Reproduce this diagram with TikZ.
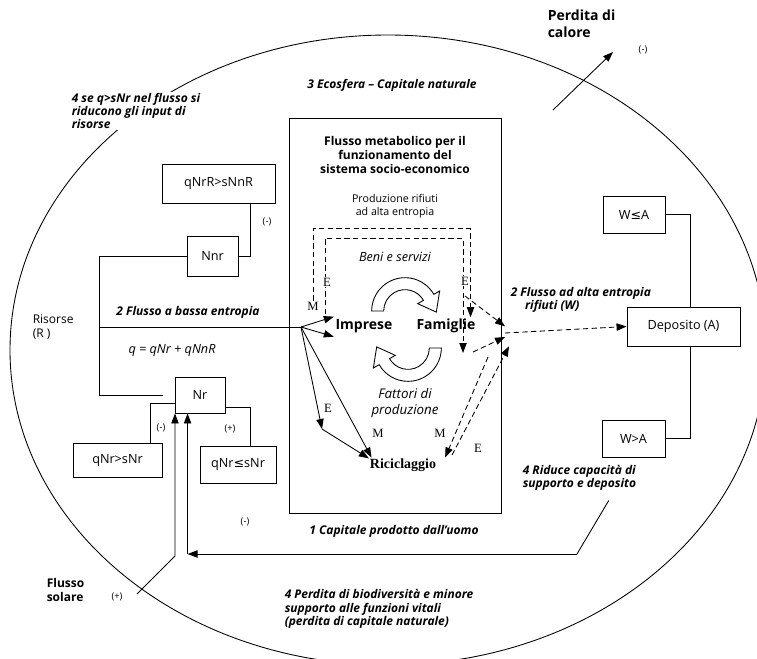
\documentclass[tikz,border=0pt]{standalone}
\usepackage{fontspec}
\setmainfont{Liberation Serif}
\setsansfont{Open Sans}
\newfontfamily\symfont{DejaVu Sans}
\renewcommand{\familydefault}{\sfdefault}
\usetikzlibrary{arrows.meta,calc}
\begin{document}
\begin{tikzpicture}[x=0.75pt,y=-0.75pt,line width=0.65pt]
  \tikzstyle{box}=[draw,inner sep=0pt,font=\fontsize{9.5}{11}\selectfont]
  \tikzstyle{bi}=[inner sep=1pt,align=left,font=\fontsize{9}{10}\selectfont\bfseries\itshape]
  \tikzstyle{bb}=[inner sep=1pt,align=left,font=\fontsize{9}{10.5}\selectfont\bfseries]
  \tikzstyle{txt}=[inner sep=1pt,align=left,font=\fontsize{9}{11}\selectfont]
  \tikzstyle{pm}=[inner sep=0pt,font=\fontsize{7}{8}\selectfont]
  \tikzstyle{flow}=[inner sep=0.5pt,font=\fontsize{9.5}{10}\selectfont\rmfamily]
  \tikzstyle{arr}=[-{Triangle[length=7.5pt,width=5.5pt]}]
  \tikzstyle{dashline}=[dash pattern=on 4pt off 2.5pt]
  \tikzstyle{fat}=[fill=white]
  \useasboundingbox (0,0) rectangle (757,658);
  \draw (388,350) ellipse [x radius=283.5pt, y radius=236.25pt];

  \node[bi,fill=white,anchor=west] (se) at (70,111) {4 se q>sNr nel flusso si\\riducono gli input di\\risorse};
  \node[bb,font=\fontsize{10.5}{12.75}\selectfont\bfseries,anchor=north west] (calore) at (546,8) {Perdita di\\calore};
  \node[pm] (m1) at (643,50) {(-)};
  \node[bi] (eco) at (392,85) {3 Ecosfera -- Capitale naturale};

  \node[draw,minimum width=159pt,minimum height=296.25pt] (cap) at (395,315.5) {};
  \node[bb,align=center] (meta) at (395,155) {Flusso metabolico per il\\funzionamento del\\sistema socio-economico};
  \node[txt,align=center,font=\fontsize{8}{9.75}\selectfont] (rif) at (395,206) {Produzione rifiuti\\ad alta entropia};
  \node[txt,font=\fontsize{9.5}{11}\selectfont\itshape] (beni) at (395,257) {Beni e servizi};
  \node[bb,font=\fontsize{10.5}{12}\selectfont\bfseries] (imp) at (364,326) {Imprese};
  \node[bb,font=\fontsize{10.5}{12}\selectfont\bfseries] (fam) at (446,326) {Famiglie};
  \node[txt,align=center,font=\fontsize{10}{12}\selectfont\itshape] (fatt) at (405,403) {Fattori di\\produzione};
  \node[flow,font=\fontsize{10.5}{11}\selectfont\rmfamily\bfseries] (ric) at (403,465) {Riciclaggio};
  \node[bi] (uomo) at (394,531) {1 Capitale prodotto dall’uomo};

  \node[box,minimum width=84.75pt,minimum height=29.25pt] (qnrr) at (218.5,183.5) {qNrR>sNnR};
  \node[box,minimum width=38.25pt,minimum height=30pt] (nnr) at (212.5,256) {Nnr};
  \node[box,minimum width=37.5pt,minimum height=27pt] (nr) at (200,395) {Nr};
  \node[box,minimum width=66.75pt,minimum height=25.5pt] (qnrg) at (117.5,460) {qNr>sNr};
  \node[box,minimum width=57pt,minimum height=27.75pt] (qnrl) at (238,464.5) {qNr{\symfont ≤}sNr};
  \node[box,minimum width=46.5pt,minimum height=27.75pt] (wle) at (634,214.5) {W{\symfont ≤}A};
  \node[box,minimum width=84.75pt,minimum height=29.25pt] (dep) at (683.5,326.5) {Deposito (A)};
  \node[box,minimum width=47.25pt,minimum height=27.75pt] (wgt) at (633.5,438.5) {W>A};

  \node[txt,anchor=west] (ris) at (31,327) {Risorse\\(R )};
  \node[bi] (bassa) at (188,312) {2 Flusso a bassa entropia};
  \node[txt,font=\fontsize{9.5}{11}\selectfont\itshape] (q) at (172,350) {q = qNr + qNnR};
  \node[bi,anchor=west] (alta) at (509,300) {2 Flusso ad alta entropia\\\hspace*{1.2em}rifiuti (W)};
  \node[bi,anchor=west] (riduce) at (521,478) {4 Riduce capacità di\\supporto e deposito};
  \node[bi,anchor=west] (bio) at (283,609) {4 Perdita di biodiversità e minore\\supporto alle funzioni vitali\\(perdita di capitale naturale)};
  \node[bb,anchor=west] (sole) at (45,590) {Flusso\\solare};

  \node[pm] (m2) at (267,222) {(-)};
  \node[pm] (m3) at (161,428) {(-)};
  \node[pm] (p1) at (230,429) {(+)};
  \node[pm] (m4) at (245,522) {(-)};
  \node[pm] (p2) at (117,597) {(+)};

  \coordinate (c1) at (405,311);
  \coordinate (c2) at (408,348);
  \draw[fat] ($(c1)+(180:25pt)$) arc[start angle=180, end angle=30, radius=25pt]
    -- ($(c1)+(30:30pt)$) -- ($(c1)+(-2:23.5pt)$) -- ($(c1)+(30:11pt)$)
    -- ($(c1)+(30:16pt)$) arc[start angle=30, end angle=180, radius=16pt] -- cycle;
  \draw[fat] ($(c2)+(0:25pt)$) arc[start angle=0, end angle=-150, radius=25pt]
    -- ($(c2)+(-150:30pt)$) -- ($(c2)+(178:23.5pt)$) -- ($(c2)+(-150:11pt)$)
    -- ($(c2)+(-150:16pt)$) arc[start angle=-150, end angle=0, radius=16pt] -- cycle;

  \draw ([xshift=23.6pt]qnrr.south) |- (nnr.east);
  \draw (nnr.west) -- ++(-87,0) |- ([xshift=-9pt]nr.west);
  \draw ([xshift=24.4pt]qnrg.north) |- ([yshift=-6pt]nr.west);
  \draw ([yshift=-9pt]nr.east) -| ([xshift=9pt]qnrl.north);
  \draw (wle.east) -| ([xshift=5pt]dep.north);
  \draw ([xshift=5pt]dep.south) |- (wgt.east);

  \coordinate (r) at (100,327);
  \coordinate (o) at (301,327);
  \coordinate (e1) at (322,429);
  \draw (r) -- (o);
  \draw[arr] (o) -- ([yshift=7pt]imp.west);
  \draw[arr] (o) -- ([yshift=-8pt]imp.west);
  \draw[arr] (o) -- (e1);
  \draw[arr] (e1) -- ([yshift=5pt]ric.west);
  \draw[arr] (o) -- ([xshift=2pt]ric.north west);
  \node[flow] (le) at (328,408) {E};
  \node[flow] (lm) at (378,433) {M};

  \node[flow,fill=white] (mo) at (313,306) {M};
  \coordinate (i0) at (325,314);
  \coordinate (i1) at (463,353);
  \draw[dashline,arr] (mo.north) -- ++(0,-72) -| ([xshift=-5pt]fam.north east);
  \draw[dashline,arr] (i0) -- ++(0,-76) -| (i1);
  \node[flow,fill=white] (ei) at (327,282) {E};
  \node[flow,fill=white] (ef) at (465,281) {E};

  \coordinate (j) at (505,333);
  \coordinate (d1) at (465,296);
  \coordinate (d2) at (473,352);
  \coordinate (d3) at (452,455);
  \coordinate (d4) at (488,357);
  \draw[dashline,arr] (d1) -- ([yshift=5pt]j);
  \draw[dashline,arr] (d2) -- ([yshift=-3pt]j);
  \draw[dashline,arr] (d3) -- ([xshift=3pt,yshift=-10pt]j);
  \draw[dashline,arr] (d4) -- ([xshift=6pt]ric.north east);
  \draw[dashline,arr] (j) -- (dep.west);
  \node[flow] (rm) at (440,433) {M};
  \node[flow] (re) at (478,448) {E};

  \coordinate (h0) at (553,110);
  \coordinate (h1) at (613,52);
  \draw[arr] (h0) -- (h1);

  \coordinate (sol) at (137,594);
  \draw[arr] (sol) -- ++(38,-38) coordinate (s1) -- (s1 |- nr.south);
  \coordinate (back) at (577,554);
  \coordinate (nrc) at ([xshift=9.75pt]nr.south west);
  \draw (back) -- ([xshift=22pt,yshift=-6pt]riduce.south);
  \draw[arr] (back) -- (back -| nrc);
  \draw[arr] (back -| nrc) -- (nrc);
\end{tikzpicture}
\end{document}
